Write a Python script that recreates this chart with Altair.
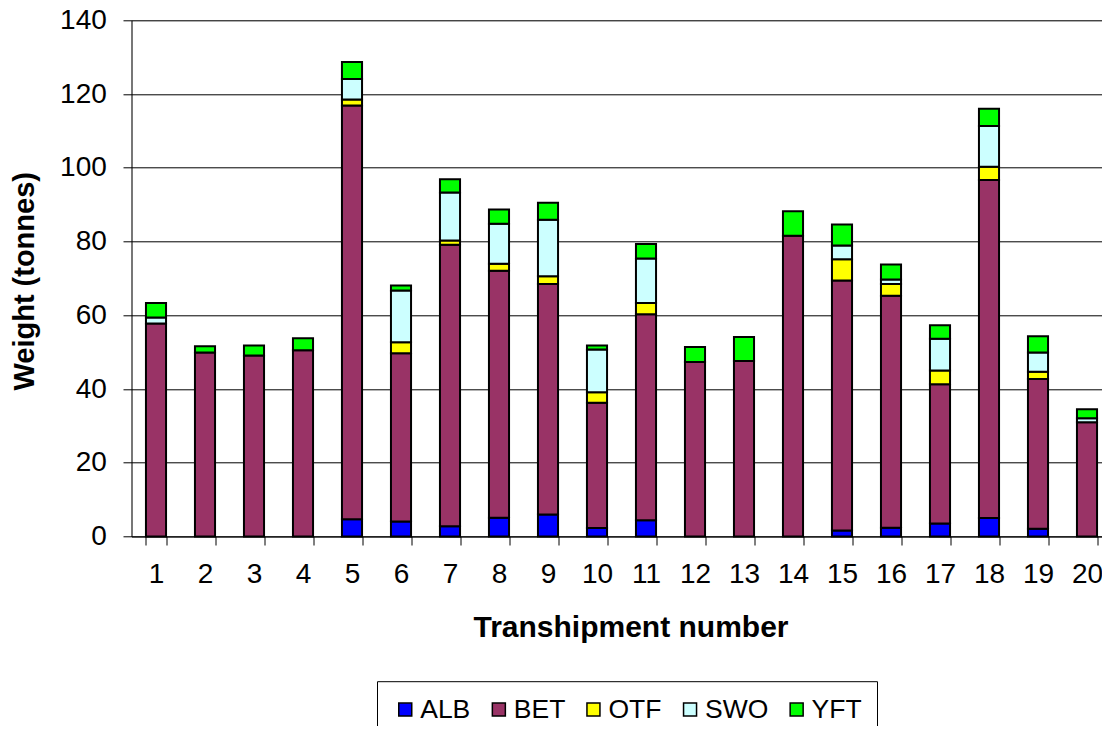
import altair as alt
import pandas as pd

transhipments = [str(i) for i in range(1, 21)]
species = ["ALB", "BET", "OTF", "SWO", "YFT"]
colors = ["#0000FF", "#993366", "#FFFF00", "#CCFFFF", "#00FF00"]

ALB = [0, 0, 0, 0, 4.7, 4.1, 2.8, 5.1, 6.0, 2.3, 4.4, 0, 0, 0, 1.6, 2.4, 3.5, 5.0, 2.1, 0]
BET = [57.8, 49.9, 49.1, 50.5, 112.2, 45.6, 76.3, 67.0, 62.5, 34.0, 55.9, 47.3, 47.6, 81.6, 67.8, 62.9, 37.8, 91.7, 40.6, 31.0]
OTF = [0, 0, 0, 0, 1.6, 3.0, 1.2, 1.9, 2.1, 2.8, 3.0, 0, 0, 0, 5.8, 3.2, 3.7, 3.6, 2.0, 0]
SWO = [1.6, 0, 0, 0, 5.6, 14.0, 13.0, 10.8, 15.3, 11.6, 12.1, 0, 0, 0, 3.7, 1.2, 8.6, 11.0, 5.2, 1.1]
YFT = [3.9, 1.7, 2.7, 3.3, 4.6, 1.4, 3.6, 3.9, 4.6, 1.1, 3.9, 4.1, 6.5, 6.6, 5.7, 4.1, 3.7, 4.7, 4.4, 2.4]

series = {"ALB": ALB, "BET": BET, "OTF": OTF, "SWO": SWO, "YFT": YFT}
rows = []
for si, sp in enumerate(species):
    for t, v in zip(transhipments, series[sp]):
        if v > 0:
            rows.append({"t": t, "species": sp, "w": v, "ord": si})
df = pd.DataFrame(rows)

FONT = "Liberation Sans"
LEG_PAD = 15
PLOT_LEFT = 131.5
PLOT_TOP = 20.3

chart = alt.Chart(df).mark_bar(stroke="black", strokeWidth=2).encode(
    x=alt.X("t:N", sort=transhipments,
            scale=alt.Scale(paddingInner=0.59, paddingOuter=0.295),
            axis=alt.Axis(title="Transhipment number", labelAngle=0, tickBand="extent",
                          tickSize=8.5, labelPadding=15.7, grid=False,
                          domainColor="black", tickColor="black",
                          labelFontSize=28, labelColor="black", labelFont=FONT,
                          titleFont=FONT, titleFontSize=30, titleFontWeight="bold",
                          titleColor="black", titleX=499.0, titleY=100.2,
                          titleBaseline="alphabetic", titleAlign="center")),
    y=alt.Y("w:Q", stack="zero",
            scale=alt.Scale(domain=[0, 140], nice=False),
            axis=alt.Axis(title="Weight (tonnes)", values=list(range(0, 141, 20)),
                          tickSize=8.5, labelPadding=16.7, grid=True,
                          gridColor="black", gridOpacity=1, gridWidth=1,
                          domainColor="black", tickColor="black",
                          labelFontSize=28, labelColor="black", labelFont=FONT,
                          titleFont=FONT, titleFontSize=29, titleFontWeight="bold",
                          titleColor="black", titleX=-98.0, titleY=260.5,
                          titleBaseline="alphabetic", titleAlign="center", titleAngle=-90)),
    color=alt.Color("species:N", sort=species,
                    scale=alt.Scale(domain=species, range=colors),
                    legend=alt.Legend(title=None, orient="none", direction="horizontal",
                                      legendX=392 - LEG_PAD - PLOT_LEFT,
                                      legendY=696.2 - LEG_PAD - PLOT_TOP,
                                      strokeColor="black", fillColor="white",
                                      padding=LEG_PAD,
                                      symbolType="square", symbolSize=169,
                                      symbolStrokeColor="black", symbolStrokeWidth=1.5,
                                      symbolOpacity=1,
                                      labelFontSize=26.5, labelFont=FONT, labelColor="black",
                                      labelOffset=1.7, columnPadding=14.6)),
    order=alt.Order("ord:Q", sort="ascending"),
).properties(
    width=980,
    height=516.2,
    autosize=alt.AutoSizeParams(type="none"),
    padding={"left": PLOT_LEFT - 8, "top": PLOT_TOP - 8, "right": 1094 - (PLOT_LEFT - 8) - 980,
             "bottom": 189.5},
).configure_view(stroke=None).configure(background="white")

chart.save("out.html", embed_options={"renderer": "svg", "actions": False})
